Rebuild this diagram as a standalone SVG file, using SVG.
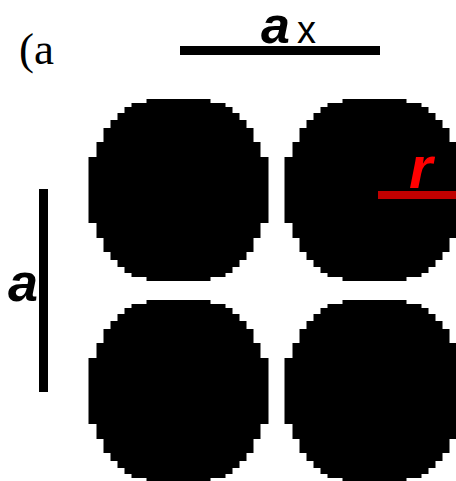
<svg xmlns="http://www.w3.org/2000/svg" xmlns:xlink="http://www.w3.org/1999/xlink" width="456" height="481" viewBox="0 0 456 481">
<style>
.disk{fill:#000000;}
.dim{fill:#000000;}
.rad{fill:#c00000;}
.sym{font-family:"Liberation Sans",Arial,sans-serif;font-weight:bold;font-style:italic;}
.sub{font-family:"Liberation Sans",Arial,sans-serif;font-size:38px;font-weight:normal;font-style:normal;fill:#000000;}
.cap{font-family:"Liberation Serif","Times New Roman",serif;font-size:45px;fill:#000000;}
</style>
<defs>
<path id="pix" class="disk" d="M-32,-91 H32 V-87 H47 V-83 H54 V-77 H61 V-70 H68 V-62 H75 V-48 H82 V-33 H90 V33 H82 V48 H75 V62 H68 V70 H61 V77 H54 V83 H47 V87 H32 V91 H-32 V87 H-47 V83 H-54 V77 H-61 V70 H-68 V62 H-75 V48 H-82 V33 H-90 V-33 H-82 V-48 H-75 V-62 H-68 V-70 H-61 V-77 H-54 V-83 H-47 V-87 H-32 Z"/>
</defs>
<rect width="456" height="481" fill="#ffffff"/>
<g id="caption"><text class="cap" x="19" y="64">(a</text></g>
<g id="disk-top-left"><use xlink:href="#pix" href="#pix" transform="translate(178.5,190)"/></g>
<g id="disk-top-right"><use xlink:href="#pix" href="#pix" transform="translate(374.5,190)"/></g>
<g id="disk-bottom-left"><use xlink:href="#pix" href="#pix" transform="translate(178.5,391)"/></g>
<g id="disk-bottom-right"><use xlink:href="#pix" href="#pix" transform="translate(374.5,391)"/></g>
<g id="connectors">
<rect class="dim" x="180" y="46" width="200" height="9"/>
<rect class="dim" x="39" y="189" width="9" height="203"/>
<rect class="rad" x="378" y="191" width="78" height="8"/>
</g>
<g id="label-ax"><text class="sym" x="261" y="43" font-size="52" fill="#000000">a<tspan class="sub" x="297">x</tspan></text></g>
<g id="label-a"><text class="sym" x="8" y="301" font-size="54" fill="#000000">a</text></g>
<g id="label-r"><text class="sym" x="409" y="188" font-size="60" fill="#ff0000">r</text></g>
</svg>
